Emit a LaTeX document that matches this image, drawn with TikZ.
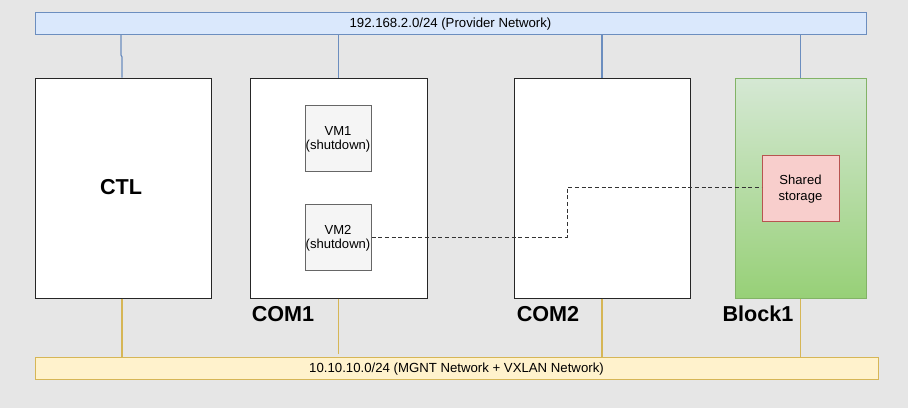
\documentclass[tikz,border=0pt]{standalone}
\usepackage{fontspec}
\setmainfont{Liberation Sans}
\usetikzlibrary{positioning}
\definecolor{bg}{HTML}{E6E6E6}
\definecolor{blueF}{HTML}{DAE8FC}
\definecolor{blueS}{HTML}{6C8EBF}
\definecolor{yelF}{HTML}{FFF2CC}
\definecolor{yelS}{HTML}{D6B656}
\definecolor{grnT}{HTML}{D5E8D4}
\definecolor{grnB}{HTML}{97D077}
\definecolor{grnS}{HTML}{82B366}
\definecolor{pinkF}{HTML}{F8CECC}
\definecolor{pinkS}{HTML}{B85450}
\definecolor{vmF}{HTML}{F5F5F5}
\definecolor{vmS}{HTML}{666666}
\tikzset{
  px/.style={x=0.75pt,y=-0.75pt},
  netbar/.style={draw=#1S, fill=#1F, line width=0.75pt, font=\fontsize{9.9}{11}\selectfont, text depth=0pt},
  hostbox/.style={draw=black!85, fill=white, line width=0.75pt},
  vmbox/.style={draw=vmS, fill=vmF, line width=0.75pt, font=\fontsize{9.8}{11}\selectfont, align=center, inner sep=0pt, text depth=0pt},
  biglabel/.style={font=\bfseries\fontsize{16.2}{18}\selectfont, inner sep=0pt},
  bluelink/.style={draw=blueS, line width=0.9pt},
  yellink/.style={draw=yelS, line width=0.9pt},
}
\begin{document}
\begin{tikzpicture}[px]
\fill[bg] (0,0) rectangle (908,408);
\useasboundingbox (0,0) rectangle (908,408);
% network bars
\node[netbar=blue, minimum width=831*0.75pt, minimum height=22*0.75pt, inner sep=0pt] (pnet) at (450.5,23) {192.168.2.0/24 (Provider Network)};
\node[netbar=yel, minimum width=843*0.75pt, minimum height=22*0.75pt, inner sep=0pt] (mnet) at (456.5,368) {10.10.10.0/24 (MGNT Network + VXLAN Network)};
% hosts
\node[hostbox, minimum width=176*0.75pt, minimum height=220*0.75pt, inner sep=0pt] (ctl) at (123,188) {};
\node[biglabel] at (121,187) {CTL};
\node[hostbox, minimum width=177*0.75pt, minimum height=220*0.75pt, inner sep=0pt] (com1) at (338.5,188) {};
\node[hostbox, minimum width=176*0.75pt, minimum height=220*0.75pt, inner sep=0pt] (com2) at (602,188) {};
\node[draw=grnS, line width=0.75pt, top color=grnT, bottom color=grnB, minimum width=131*0.75pt, minimum height=220*0.75pt, inner sep=0pt] (blk) at (800.5,188) {};
\node[biglabel, anchor=center] (l1) at (283,314) {COM1};
\node[biglabel, anchor=center] (l2) at (548,314) {COM2};
\node[biglabel, anchor=center] (l3) at (758,314) {Block1};
% VMs
\node[vmbox, minimum width=66*0.75pt, minimum height=66*0.75pt] (vm1) at (338,138) {VM1\\(shutdown)};
\node[vmbox, minimum width=66*0.75pt, minimum height=66*0.75pt] (vm2) at (338,237) {VM2\\(shutdown)};
\node[draw=pinkS, fill=pinkF, line width=0.75pt, minimum width=77*0.75pt, minimum height=66*0.75pt, inner sep=0pt, align=center, text depth=0pt, font=\fontsize{9.8}{12}\selectfont] (ss) at (800.5,188) {Shared\\storage};
% dashed link
\coordinate (d1) at (567,237);
\coordinate (d2) at (567,187);
\draw[line width=0.75pt, black!80, dash pattern=on 3pt off 2pt] (vm2.east) -- (d1) -- (d2) -- (ss.west |- d2);
% provider links
\draw[bluelink] (ctl.north -| 122,0) -- (122,57) -- (121,55) -- (121,34);
\draw[bluelink] (com1.north) -- (com1.north |- pnet.south);
\draw[bluelink] (com2.north) -- (com2.north |- pnet.south);
\draw[bluelink] (blk.north) -- (blk.north |- pnet.south);
% mgmt links
\draw[yellink] (ctl.south -| 122,0) -- (122,357);
\draw[yellink] (com1.south) -- (338.5,354);
\draw[yellink] (com2.south) -- (com2.south |- mnet.north);
\draw[yellink] (blk.south) -- (blk.south |- mnet.north);
\end{tikzpicture}
\end{document}
